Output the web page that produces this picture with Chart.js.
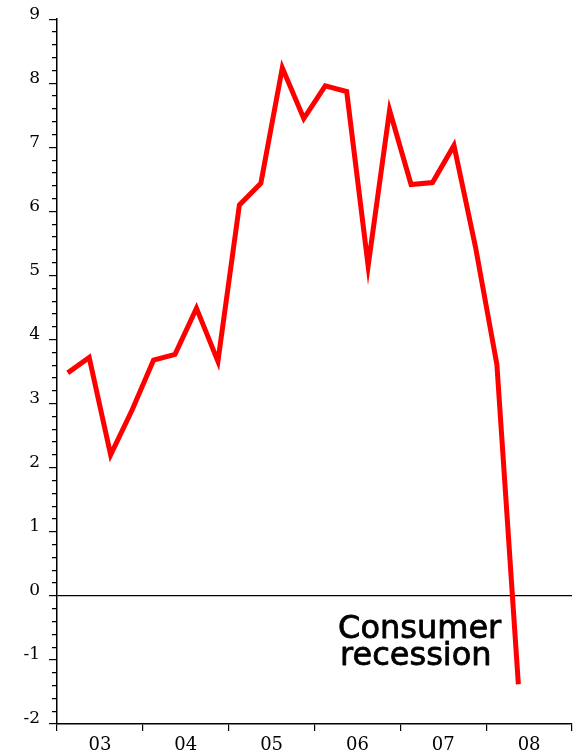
<!DOCTYPE html>
<html>
<head>
<meta charset="utf-8">
<script src="https://cdn.jsdelivr.net/npm/chart.js@4.4.1/dist/chart.umd.min.js"></script>
<style>
  html, body { margin: 0; padding: 0; background: #fff; }
  #wrap { width: 581px; height: 755px; }
</style>
</head>
<body>
<div id="wrap"><canvas id="chart"></canvas></div>
<script>
// quarterly growth, 2003 Q1 .. 2008 Q2
const years = [2003, 2003, 2003, 2003, 2004, 2004, 2004, 2004, 2005, 2005, 2005, 2005,
               2006, 2006, 2006, 2006, 2007, 2007, 2007, 2007, 2008, 2008];
const quarters = [1, 2, 3, 4, 1, 2, 3, 4, 1, 2, 3, 4, 1, 2, 3, 4, 1, 2, 3, 4, 1, 2];
const values = [3.48, 3.72, 2.2, 2.9, 3.68, 3.77, 4.49, 3.66, 6.10, 6.44, 8.24, 7.45,
                7.96, 7.87, 5.15, 7.58, 6.42, 6.45, 7.03, 5.45, 3.61, -1.38];
const yearLabels = ['03', '04', '05', '06', '07', '08'];
const noteLines = ['Consumer', 'recession'];

// plot each quarter at its middle
const points = values.map((v, i) => ({ x: years[i] + (quarters[i] - 0.5) / 4, y: v }));

const isWhole = v => Math.abs(v - Math.round(v)) < 1e-6;

const notePlugin = {
  id: 'note',
  afterDatasetsDraw(chart) {
    const ctx = chart.ctx;
    const x = chart.scales.x.getPixelForValue(2006.275);
    ctx.save();
    ctx.fillStyle = '#000';
    ctx.strokeStyle = '#000';
    ctx.lineWidth = 0.8;
    ctx.lineJoin = 'round';
    ctx.font = '32px "DejaVu Sans"';
    ctx.textAlign = 'left';
    ctx.textBaseline = 'alphabetic';
    const y1 = chart.scales.y.getPixelForValue(-0.65);
    const y2 = chart.scales.y.getPixelForValue(-1.08);
    ctx.fillText(noteLines[0], x, y1);
    ctx.strokeText(noteLines[0], x, y1);
    ctx.fillText(noteLines[1], x + 2, y2);
    ctx.strokeText(noteLines[1], x + 2, y2);
    ctx.restore();
  }
};

new Chart(document.getElementById('chart'), {
  type: 'line',
  data: {
    datasets: [{
      data: points,
      borderColor: '#ff0000',
      borderWidth: 5,
      pointRadius: 0,
      tension: 0,
      borderJoinStyle: 'miter',
      xAxisID: 'x'
    }]
  },
  options: {
    responsive: true,
    maintainAspectRatio: false,
    animation: false,
    layout: { padding: { top: 17, right: 9, left: 0, bottom: 0 } },
    plugins: { legend: { display: false }, tooltip: { enabled: false } },
    scales: {
      x: {
        type: 'linear',
        min: 2003,
        max: 2009,
        display: false
      },
      xl: {
        type: 'category',
        position: 'bottom',
        labels: yearLabels,
        offset: true,
        grid: { offset: true, drawOnChartArea: false, tickLength: 7, color: '#000', lineWidth: 1.2 },
        border: { color: '#000', width: 1.5 },
        ticks: {
          color: '#000',
          padding: 4,
          font: { family: '"DejaVu Serif"', size: 18 },
          maxRotation: 0
        },
        afterFit(scale) { scale.height = 31; }
      },
      y: {
        type: 'linear',
        min: -2,
        max: 9,
        grid: {
          drawOnChartArea: true,
          tickLength: 8,
          color: ctx => (ctx.tick && isWhole(ctx.tick.value) && Math.round(ctx.tick.value) === 0) ? '#000' : 'rgba(0,0,0,0)',
          lineWidth: 1.2,
          tickColor: '#000',
          tickWidth: 1.2,
          // minor ticks: skip the outer part so they come out shorter
          tickBorderDash: ctx => (ctx.tick && isWhole(ctx.tick.value)) ? [] : [0, 3, 5, 100]
        },
        border: { color: '#000', width: 1.5 },
        ticks: {
          stepSize: 0.2,
          autoSkip: false,
          color: '#000',
          padding: 9,
          labelOffset: -5,
          font: { family: '"DejaVu Serif"', size: 17 },
          callback: v => isWhole(v) ? String(Math.round(v)) : ''
        },
        afterFit(scale) { scale.width = 57; }
      }
    }
  },
  plugins: [notePlugin]
});
</script>
</body>
</html>
